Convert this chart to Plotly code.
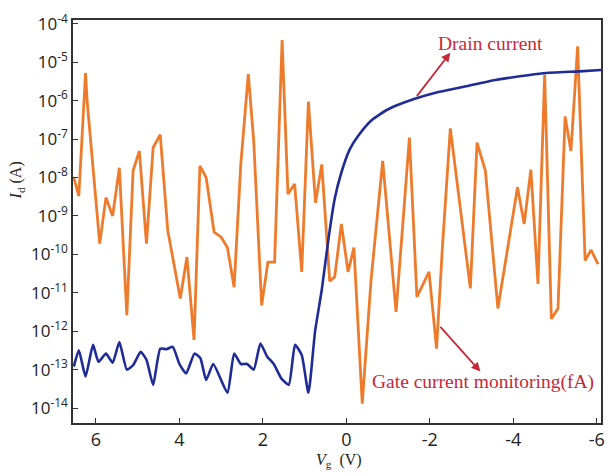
import plotly.graph_objects as go

# Gate current monitoring (orange)
gate_vg = [6.53, 6.41, 6.25, 6.21, 5.91, 5.76, 5.60, 5.44, 5.26, 5.11, 4.96, 4.79, 4.63, 4.46,
           4.28, 3.98, 3.82, 3.65, 3.51, 3.36, 3.17, 3.00, 2.85, 2.69, 2.53, 2.35, 2.22, 2.03,
           1.88, 1.72, 1.54, 1.40, 1.24, 1.07, 0.91, 0.74, 0.59, 0.40, 0.28, 0.12, -0.04, -0.18,
           -0.38, -0.59, -0.87, -1.19, -1.51, -1.69, -1.98, -2.16, -2.30, -2.49, -2.97, -3.13,
           -3.33, -3.63, -4.10, -4.26, -4.42, -4.59, -4.75, -4.91, -5.07, -5.24, -5.38, -5.54,
           -5.72, -5.86, -6.03]
gate_i = [1.0e-8, 3.3e-9, 5.2e-6, 9.5e-7, 1.9e-10, 3.0e-9, 1.0e-9, 1.8e-8, 2.6e-12, 1.5e-8,
          4.9e-8, 1.9e-10, 6.0e-8, 1.3e-7, 4.2e-10, 7.1e-12, 8.5e-11, 5.9e-13, 2.0e-8, 1.0e-8,
          3.8e-10, 2.8e-10, 1.5e-10, 1.4e-11, 2.2e-8, 4.9e-6, 8.9e-8, 4.7e-12, 6.3e-11, 6.3e-11,
          3.8e-5, 3.7e-9, 6.8e-9, 3.5e-11, 9.5e-7, 2.2e-9, 2.2e-8, 2.0e-11, 2.6e-11, 6.2e-10,
          3.5e-11, 1.5e-10, 1.3e-14, 2.1e-11, 2.7e-8, 3.2e-12, 1.1e-7, 7.8e-12, 3.5e-11, 3.5e-13,
          1.5e-10, 1.9e-7, 1.3e-11, 8.1e-8, 1.5e-8, 3.9e-12, 5.6e-9, 6.2e-10, 1.6e-8, 1.7e-11,
          4.8e-6, 2.1e-12, 3.9e-12, 3.9e-7, 4.9e-8, 2.6e-5, 6.9e-11, 1.3e-10, 5.6e-11]

# Drain current (blue)
drain_vg = [6.53, 6.41, 6.25, 6.07, 5.94, 5.76, 5.60, 5.44, 5.26, 5.11, 4.93, 4.79, 4.63, 4.46,
            4.31, 4.16, 4.00, 3.84, 3.64, 3.50, 3.36, 3.19, 2.85, 2.69, 2.53, 2.38, 2.22, 2.06,
            1.90, 1.74, 1.56, 1.38, 1.23, 1.07, 0.91, 0.75, 0.59, 0.43, 0.28, 0.12, -0.08, -0.28,
            -0.59, -0.99, -1.62, -2.18, -2.81, -3.60, -4.71, -5.58, -6.10]
drain_i = [1.2e-13, 3.2e-13, 6.6e-14, 4.4e-13, 1.6e-13, 2.6e-13, 1.5e-13, 5.2e-13, 1.0e-13,
           1.3e-13, 2.9e-13, 1.8e-13, 4.0e-14, 3.5e-13, 3.4e-13, 3.9e-13, 1.4e-13, 7.9e-14,
           2.6e-13, 2.0e-13, 5.4e-14, 1.4e-13, 2.5e-14, 2.6e-13, 1.4e-13, 1.4e-13, 1.0e-13,
           4.8e-13, 2.2e-13, 1.4e-13, 5.9e-14, 4.0e-14, 4.4e-13, 2.4e-13, 2.5e-14, 1.0e-12,
           1.2e-11, 2.5e-10, 2.8e-9, 1.35e-8, 5.4e-8, 1.2e-7, 3.0e-7, 5.9e-7, 1.1e-6, 1.66e-6,
           2.3e-6, 3.5e-6, 5.2e-6, 5.8e-6, 6.3e-6]

x_ticks = [6, 4, 2, 0, -2, -4, -6]
y_exps = [-4, -5, -6, -7, -8, -9, -10, -11, -12, -13, -14]

fig = go.Figure()
fig.add_trace(go.Scatter(x=gate_vg, y=gate_i, mode="lines",
                         line=dict(color="#EE7B2C", width=2.8), showlegend=False))
fig.add_trace(go.Scatter(x=drain_vg, y=drain_i, mode="lines",
                         line=dict(color="#1F2C96", width=2.6, shape="spline", smoothing=0.5),
                         showlegend=False))

x_tick_font = dict(family="Open Sans, sans-serif", size=18, color="#222222")
y_tick_font = dict(family="Open Sans, sans-serif", size=17, color="#222222")
red = "#C8283A"
serif = "Liberation Serif, Times New Roman, serif"

fig.update_layout(
    width=609, height=475,
    margin=dict(l=73, r=4, t=20, b=52),
    paper_bgcolor="white", plot_bgcolor="white",
    xaxis=dict(range=[6.55, -6.1], tickvals=x_ticks, ticktext=[str(v) for v in x_ticks],
               ticks="inside", ticklen=5, tickwidth=1, tickcolor="#333333",
               showline=True, linecolor="#333333", linewidth=1.5, mirror=True,
               showgrid=False, zeroline=False, tickfont=x_tick_font),
    yaxis=dict(type="log", range=[-14.39, -3.9],
               tickvals=[10.0 ** e for e in y_exps],
               ticktext=["10<sup>%d</sup>" % e for e in y_exps],
               ticks="inside", ticklen=5, tickwidth=1, tickcolor="#333333",
               showline=True, linecolor="#333333", linewidth=1.5, mirror=True,
               showgrid=False, zeroline=False, tickfont=y_tick_font),
    annotations=[
        dict(text="Drain current", x=-3.46, y=-4.50, xref="x", yref="y", showarrow=False,
             font=dict(family=serif, size=19.5, color=red)),
        dict(text="", x=-2.49, y=-4.75, ax=-1.66, ay=-5.92, xref="x", yref="y",
             axref="x", ayref="y", showarrow=True, arrowhead=2, arrowsize=1,
             arrowwidth=1.8, arrowcolor=red),
        dict(text="Gate current monitoring(fA)", x=-3.27, y=-13.33, xref="x", yref="y",
             showarrow=False, font=dict(family=serif, size=19.5, color=red)),
        dict(text="", x=-3.21, y=-13.05, ax=-2.22, ay=-11.85, xref="x", yref="y",
             axref="x", ayref="y", showarrow=True, arrowhead=2, arrowsize=1,
             arrowwidth=1.8, arrowcolor=red),
        dict(text="<i>I</i><sub>d</sub> (A)", x=0, y=0, xref="paper", yref="paper",
             showarrow=False, textangle=-90,
             font=dict(family=serif, size=16, color="#222222")),
        dict(text="<i>V</i><sub>g</sub>  (V)", x=0.5, y=0, xref="paper", yref="paper",
             showarrow=False, font=dict(family=serif, size=16, color="#222222")),
    ],
)

# place axis titles in pixel terms relative to the plot area
plot_w = 609 - 73 - 4
plot_h = 475 - 20 - 52
fig.layout.annotations[4].update(x=(16 - 73) / plot_w, y=(475 - 52 - 180) / plot_h,
                                 xanchor="center", yanchor="middle")
fig.layout.annotations[5].update(x=(341 - 73) / plot_w, y=-(460 - 423) / plot_h,
                                 xanchor="center", yanchor="middle")

fig.write_html("out.html")
